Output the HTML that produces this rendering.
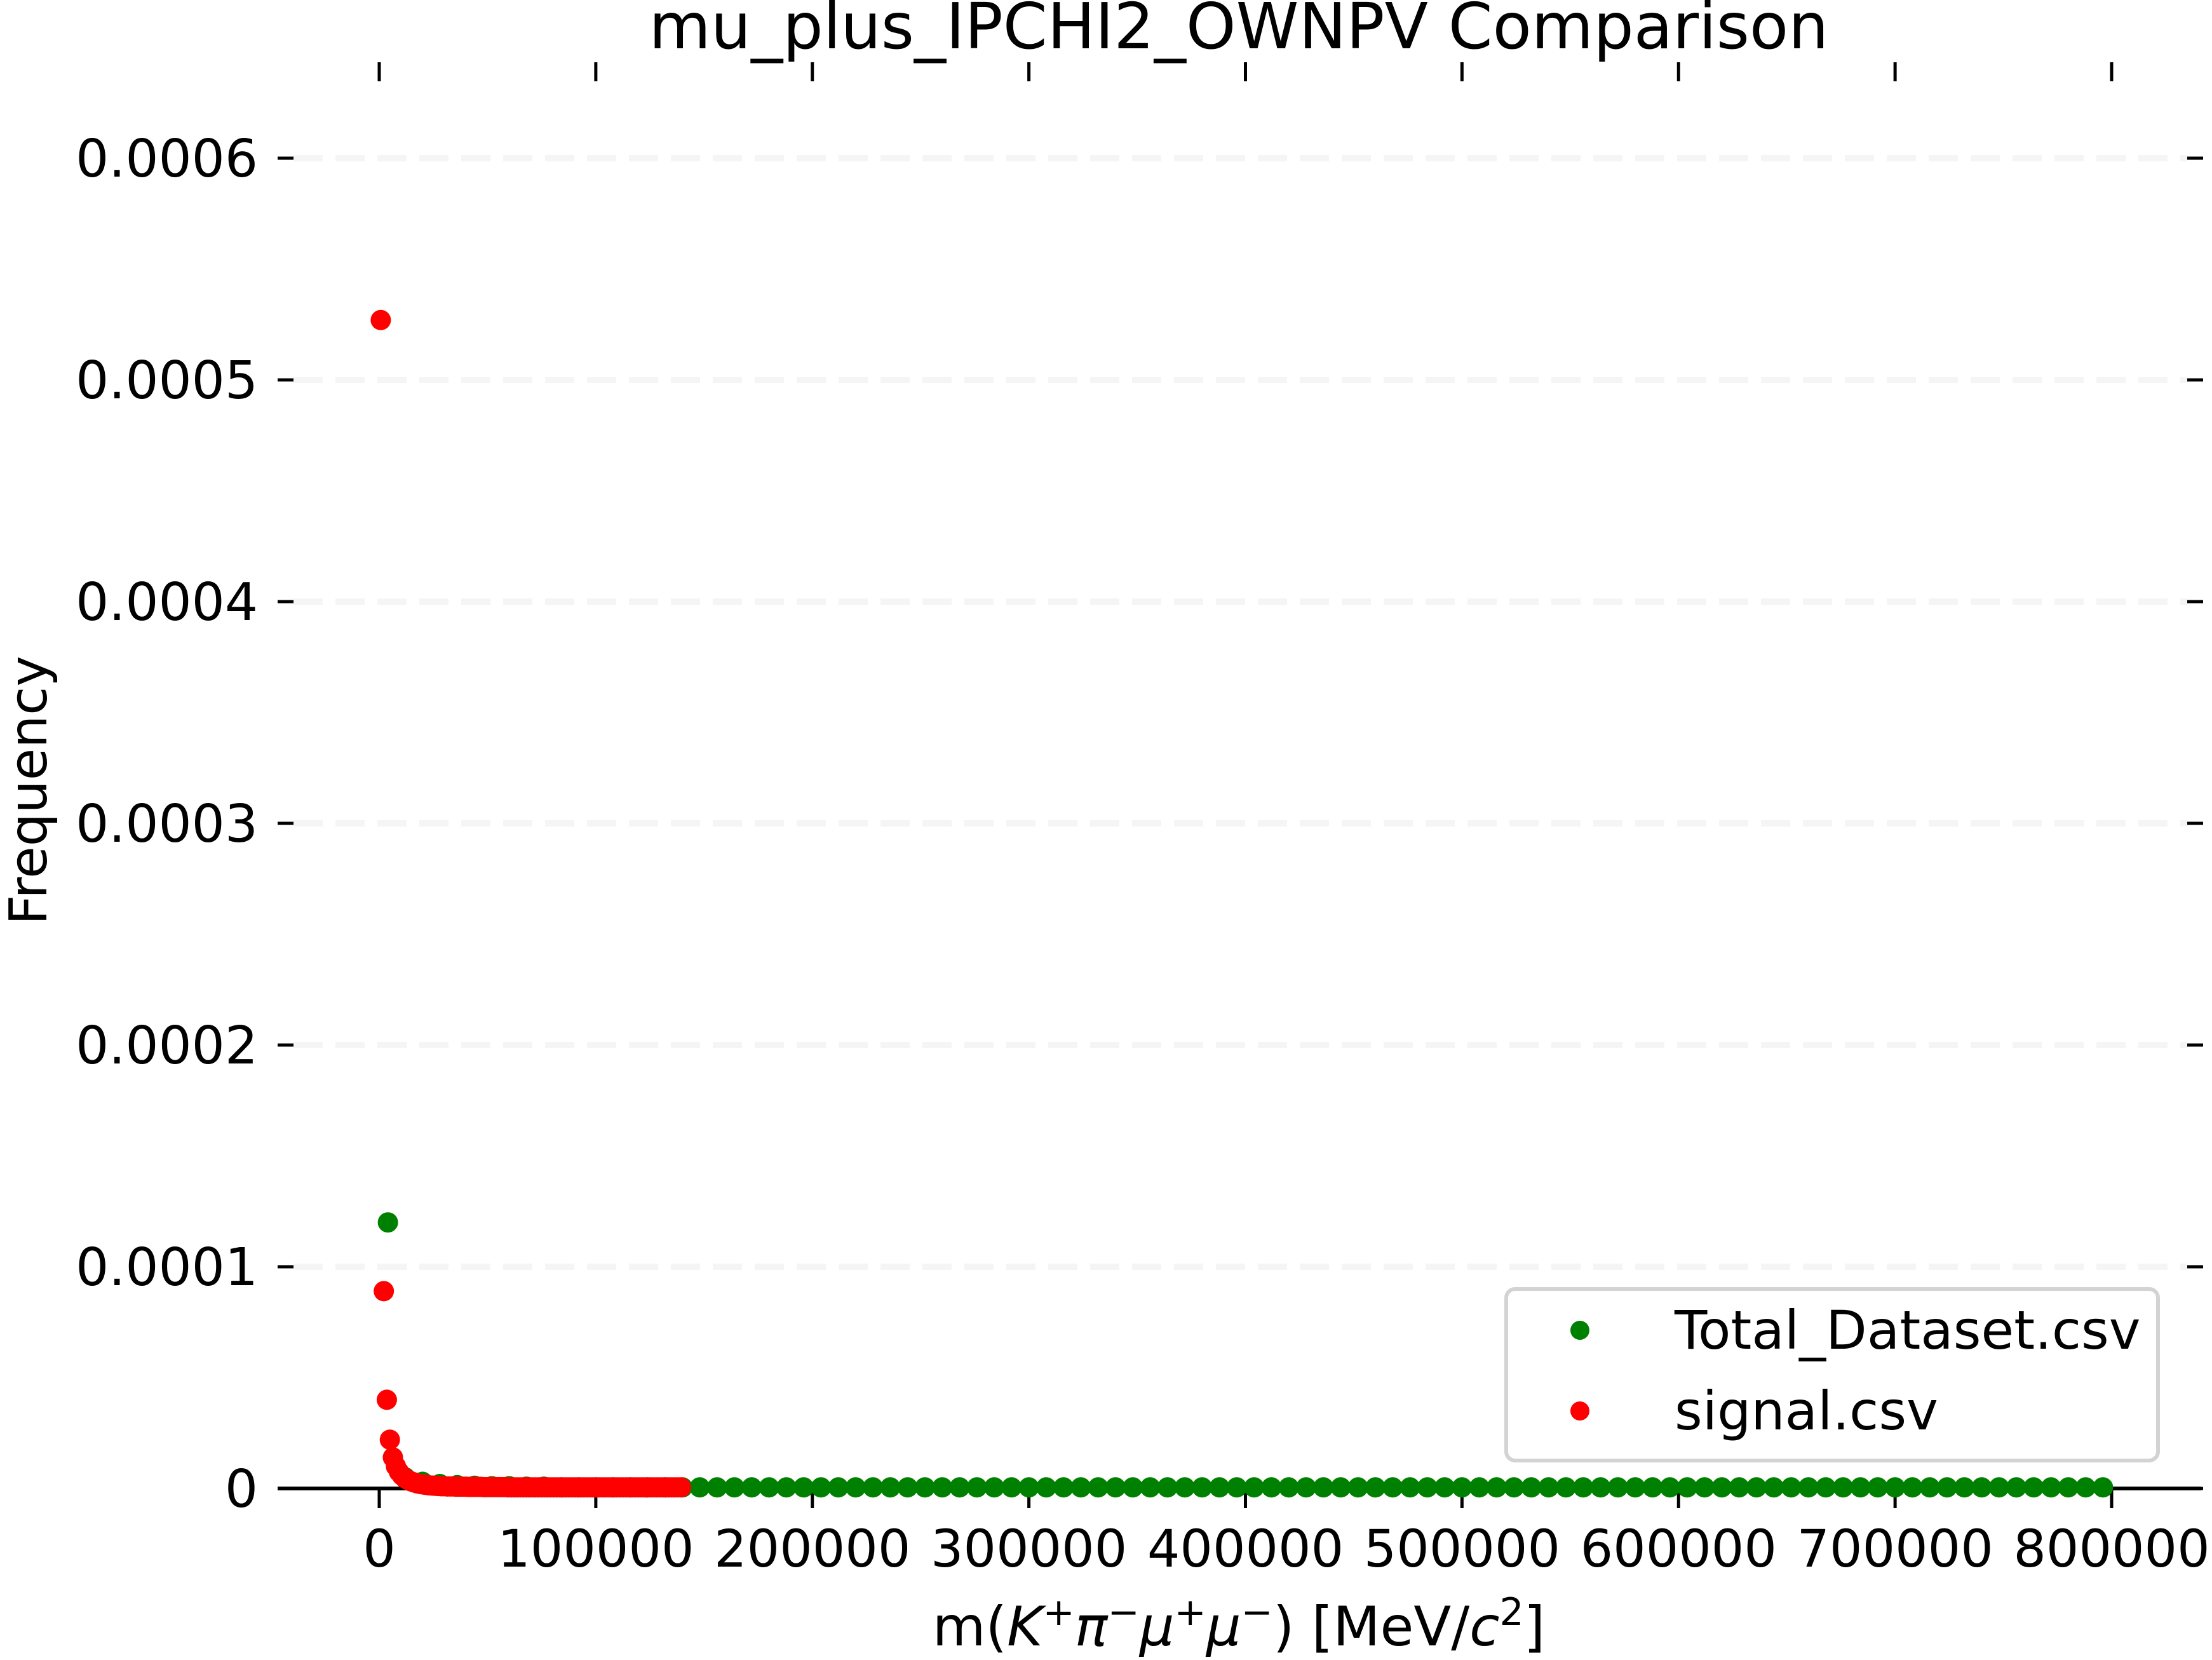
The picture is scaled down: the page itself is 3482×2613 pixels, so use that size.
<!DOCTYPE html>
<html><head><meta charset="utf-8"><style>
html,body{margin:0;padding:0;background:#fff;}
svg{display:block;font-family:"DejaVu Sans","Liberation Sans",sans-serif;}
</style></head><body>
<svg id="chart" width="3482" height="2613" viewBox="0 0 3482 2613" xmlns="http://www.w3.org/2000/svg">
<rect width="3482" height="2613" fill="#fff"/>
<text x="1950" y="76" font-size="100" text-anchor="middle">mu_plus_IPCHI2_OWNPV Comparison</text>
<g id="grid"></g>
<g id="axes"></g>
<g id="series"></g>
<text x="0" y="0" font-size="82" text-anchor="middle" transform="translate(73,1244) rotate(-90)">Frequency</text>
<text x="1950" y="2590" font-size="86" text-anchor="middle">m(<tspan font-style="italic">K</tspan><tspan font-size="60" dy="-32">+</tspan><tspan font-style="italic" dy="32">π</tspan><tspan font-size="60" dy="-32">−</tspan><tspan font-style="italic" dy="32">μ</tspan><tspan font-size="60" dy="-32">+</tspan><tspan font-style="italic" dy="32">μ</tspan><tspan font-size="60" dy="-32">−</tspan><tspan dy="32">) [MeV/</tspan><tspan font-style="italic">c</tspan><tspan font-size="60" dy="-32">2</tspan><tspan dy="32">]</tspan></text>
<g>
<rect x="2371" y="2029" width="1026" height="270" rx="14" fill="#fff" stroke="#d3d3d3" stroke-width="6"/>
<circle cx="2487" cy="2094" r="15" fill="#008000"/>
<text x="2636" y="2123" font-size="84">Total_Dataset.csv</text>
<circle cx="2487" cy="2221" r="15" fill="#ff0000"/>
<text x="2636" y="2250" font-size="84">signal.csv</text>
</g>
</svg>
<script>
const xTicks = [0,100000,200000,300000,400000,500000,600000,700000,800000];
const yTicks = [0,0.0001,0.0002,0.0003,0.0004,0.0005,0.0006];
const yTickLabels = ["0","0.0001","0.0002","0.0003","0.0004","0.0005","0.0006"];
const totalStart = 4000;
const totalStep = 8000;
const totalValues = [1.20,0.05,0.03,0.02,0.015,0.012,0.01,0.01,0.008,0.008].concat(new Array(90).fill(0.005));
const signalStart = 700;
const signalStep = 1400;
const signalValues = [5.27,0.89,0.40,0.22,0.14,0.10,0.075,0.058,0.046,0.038,0.032,0.027,0.023,0.020,0.018,0.016,0.014,0.013,0.012,0.011,
0.010,0.010,0.009,0.009,0.009,0.008,0.008,0.008,0.008,0.007,0.007,0.007,0.007,0.007,0.006,0.006,0.006,0.006,0.006,0.006,
0.006,0.006,0.005,0.005,0.005,0.005,0.005,0.005,0.005,0.005,0.005,0.005,0.005,0.005,0.005,0.005,0.005,0.005,0.005,0.005,
0.005,0.005,0.005,0.005,0.005,0.005,0.005,0.005,0.005,0.005,0.005,0.005,0.005,0.005,0.005,0.005,0.005,0.005,0.005,0.005,
0.005,0.005,0.005,0.005,0.005,0.005,0.005,0.005,0.005,0.005,0.005,0.005,0.005,0.005,0.005,0.005,0.005,0.005,0.005,0.005];
const yUnit = 1e-4;

const NS = "http://www.w3.org/2000/svg";
function xs(v){ return 597 + v * (3324 - 597) / 800000; }
function ys(v){ return 2343 - v * (2343 - 249) / 0.0006; }
function mk(tag, attrs, parent){ const e = document.createElementNS(NS, tag); for (const k in attrs) e.setAttribute(k, attrs[k]); parent.appendChild(e); return e; }

const grid = document.getElementById('grid');
const axes = document.getElementById('axes');
const series = document.getElementById('series');

yTicks.forEach((t, i) => {
  const y = ys(t);
  if (i > 0) {
    const g = mk('line', {x1: 462, x2: 3443, y1: y, y2: y, stroke: '#f5f5f5', 'stroke-width': 10, 'stroke-dasharray': '46 20'}, grid);
    
    
  }
  const tl = mk('line', {x1: 437, x2: 462, y1: y, y2: y, stroke: '#000', 'stroke-width': 5}, axes);
  
  
  const tr = mk('line', {x1: 3443, x2: 3468, y1: y, y2: y, stroke: '#000', 'stroke-width': 5}, axes);
  
  
  const lab = mk('text', {x: 406, y: y + 29, 'font-size': 82, 'text-anchor': 'end'}, axes);
  lab.textContent = yTickLabels[i];
  
  
});

xTicks.forEach((t) => {
  const x = xs(t);
  const tb = mk('line', {x1: x, x2: x, y1: 2343, y2: 2374, stroke: '#000', 'stroke-width': 5}, axes);
  
  
  const tt = mk('line', {x1: x, x2: x, y1: 98, y2: 128, stroke: '#000', 'stroke-width': 5}, axes);
  
  
  const lab = mk('text', {x: x, y: 2466, 'font-size': 81, 'text-anchor': 'middle'}, axes);
  lab.textContent = String(t);
  
  
});

totalValues.forEach((v, i) => {
  const c = mk('circle', {cx: xs(totalStart + i * totalStep), cy: ys(v * yUnit), r: 16, fill: '#008000'}, series);
  
  
});
signalValues.forEach((v, i) => {
  const c = mk('circle', {cx: xs(signalStart + i * signalStep), cy: ys(v * yUnit), r: 16, fill: '#ff0000'}, series);
  
  
});

const spine = mk('line', {x1: 437, x2: 3465, y1: 2343, y2: 2343, stroke: '#000', 'stroke-width': 6}, axes);


</script>
</body></html>
